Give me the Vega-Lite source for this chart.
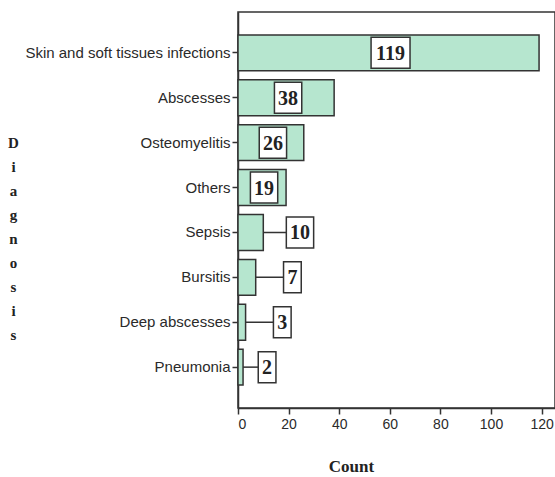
{
  "$schema": "https://vega.github.io/schema/vega-lite/v6.json",
  "autosize": "none",
  "width": 317,
  "height": 396,
  "padding": {"left": 238, "top": 12, "right": 0, "bottom": 69},
  "background": "white",
  "config": {
    "view": {"stroke": "#333", "strokeWidth": 1.5},
    "axis": {"domainColor": "#333", "tickColor": "#333", "domainWidth": 1.5, "tickWidth": 1.5, "grid": false, "labelColor": "#2a2a2a", "labelFont": "Liberation Sans"}
  },
  "data": {"values": [
    {"diagnosis": "Skin and soft tissues infections", "count": 119},
    {"diagnosis": "Abscesses", "count": 38},
    {"diagnosis": "Osteomyelitis", "count": 26},
    {"diagnosis": "Others", "count": 19},
    {"diagnosis": "Sepsis", "count": 10},
    {"diagnosis": "Bursitis", "count": 7},
    {"diagnosis": "Deep abscesses", "count": 3},
    {"diagnosis": "Pneumonia", "count": 2}
  ]},
  "transform": [
    {"calculate": "datum.count >= 19 ? datum.count / 2 + 0.8 : (datum.count >= 3 ? datum.count + 14.5 : datum.count + 9.5)", "as": "lx"},
    {"calculate": "length(toString(datum.count)) == 3 ? 7.7 : (length(toString(datum.count)) == 2 ? 5.4 : 3.5)", "as": "hw"},
    {"calculate": "datum.lx - datum.hw", "as": "bx1"},
    {"calculate": "datum.lx + datum.hw", "as": "bx2"}
  ],
  "encoding": {
    "y": {
      "field": "diagnosis", "type": "nominal", "sort": null,
      "scale": {"paddingInner": 0.2, "paddingOuter": 0.51},
      "axis": {
        "title": ["D", "i", "a", "g", "n", "o", "s", "i", "s"],
        "titleAngle": 0, "titleAlign": "center", "titleBaseline": "top",
        "titleX": -225, "titleY": 123, "titleLineHeight": 24,
        "titleFont": "Liberation Serif", "titleFontSize": 15, "titleFontWeight": "bold", "titleColor": "#222",
        "labelFontSize": 15, "labelLimit": 0, "tickSize": 6, "labelPadding": 2
      }
    }
  },
  "layer": [
    {
      "mark": {"type": "bar", "fill": "#b6e6cf", "stroke": "#333", "strokeWidth": 1.5},
      "encoding": {
        "x": {
          "field": "count", "type": "quantitative",
          "scale": {"domain": [0, 125.3], "nice": false},
          "axis": {
            "values": [0, 20, 40, 60, 80, 100, 120], "title": "Count",
            "labelFontSize": 14, "tickSize": 6, "labelPadding": 3,
            "titleFont": "Liberation Serif", "titleFontSize": 17, "titleFontWeight": "bold", "titleColor": "#222",
            "titleAnchor": "start", "titleAlign": "center", "titleX": 113, "titleY": 63, "titleBaseline": "alphabetic"
          }
        }
      }
    },
    {
      "transform": [{"filter": "datum.count < 19"}],
      "mark": {"type": "rule", "stroke": "#333", "strokeWidth": 1.5},
      "encoding": {"x": {"field": "count", "type": "quantitative"}, "x2": {"field": "lx"}}
    },
    {
      "mark": {"type": "bar", "fill": "white", "stroke": "#333", "strokeWidth": 1.5, "height": 31},
      "encoding": {"x": {"field": "bx1", "type": "quantitative"}, "x2": {"field": "bx2"}}
    },
    {
      "mark": {"type": "text", "font": "Liberation Serif", "fontWeight": "bold", "fontSize": 20, "color": "#222", "baseline": "middle", "dy": 1},
      "encoding": {
        "x": {"field": "lx", "type": "quantitative"},
        "text": {"field": "count", "type": "quantitative"}
      }
    }
  ]
}
